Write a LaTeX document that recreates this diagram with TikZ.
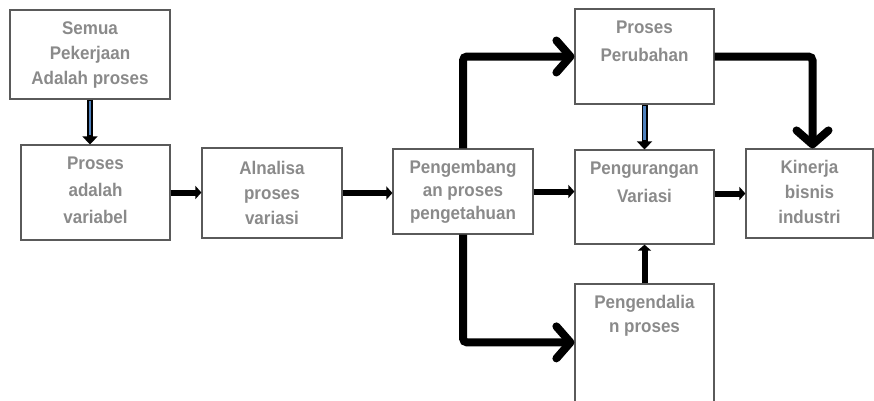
\documentclass[tikz,border=0pt]{standalone}
\usepackage{fontspec}
\setmainfont{Liberation Sans}[FakeStretch=0.93]
\usetikzlibrary{arrows.meta}
\definecolor{txtgray}{RGB}{138,138,138}
\definecolor{boxline}{RGB}{90,90,90}
\definecolor{arrblue}{RGB}{79,129,189}
\newcommand{\boxfont}[1]{\bfseries\fontsize{18.3}{#1}\selectfont}
\begin{document}
\begin{tikzpicture}[x=1pt,y=-1pt]
    \tikzstyle{box}=[draw=boxline,line width=1.2pt,inner sep=0pt]
    \tikzstyle{txt}=[text=txtgray,align=center,inner sep=0pt,anchor=north,yshift=-12pt,font=\boxfont{25}]
    \tikzstyle{flow}=[line width=6pt,-{Triangle[length=6pt,width=13pt]}]
    \tikzstyle{bigflow}=[line width=8pt,rounded corners=4pt,-{Straight Barb[length=14pt,width=32pt,round]}]
    \tikzstyle{hollow}=[line width=6pt,-{Triangle[length=8pt,width=15pt]}]
    \tikzstyle{hollowin}=[line width=2.5pt,arrblue,shorten >=9pt,shorten <=1.5pt]

    \useasboundingbox (0,0) rectangle (874,400);
    \clip (0,0) rectangle (874,400);

    % boxes
    \node[box,minimum width=160pt,minimum height=89pt](b1) at (90,54.5){};
    \node[box,minimum width=149pt,minimum height=95pt](b2) at (95.5,192.5){};
    \node[box,minimum width=140pt,minimum height=90pt](b3) at (272,193){};
    \node[box,minimum width=140pt,minimum height=85pt](b4) at (463,191.5){};
    \node[box,minimum width=139pt,minimum height=95pt](b5) at (644.5,56.5){};
    \node[box,minimum width=139pt,minimum height=94pt](b6) at (644.5,197){};
    \node[box,minimum width=127pt,minimum height=89pt](b7) at (809.5,193.5){};
    \node[box,minimum width=139pt,minimum height=130pt](b8) at (644.5,349){};

    \node[txt](t1) at (b1.north){Semua\\Pekerjaan\\Adalah proses};
    \node[txt,font=\boxfont{27}](t2) at (b2.north){Proses\\adalah\\variabel};
    \node[txt,yshift=-2pt](t3) at (b3.north){Alnalisa\\proses\\variasi};
    \node[txt,font=\boxfont{23}](t4) at (b4.north){Pengembang\\an proses\\pengetahuan};
    \node[txt,font=\boxfont{28}](t5) at (b5.north){Proses\\Perubahan};
    \node[txt,font=\boxfont{28}](t6) at (b6.north){Pengurangan\\Variasi};
    \node[txt](t7) at (b7.north){Kinerja\\bisnis\\industri};
    \node[txt,font=\boxfont{24}](t8) at (b8.north){Pengendalia\\n proses};

    % blue arrows
    \draw[hollow] (b1.south) -- (b1.south |- b2.north);
    \draw[hollowin] (b1.south) -- (b1.south |- b2.north);
    \draw[hollow] (b5.south) -- (b6.north);
    \draw[hollowin] (b5.south) -- (b6.north);

    % short arrows
    \draw[flow] (b2.east) -- (b2.east -| b3.west);
    \draw[flow] (b3.east) -- (b3.east -| b4.west);
    \draw[flow] (b4.east) -- (b4.east -| b6.west);
    \draw[flow] (b7.west -| b6.east) -- (b7.west);
    \draw[flow] (b8.north) -- (b6.south);

    % big arrows
    \draw[bigflow] (b4.north) |- (b5.west);
    \draw[bigflow] (b4.south) |- ([yshift=-59pt]b8.north west);
    \draw[bigflow] (b5.east) -| ([xshift=3pt]b7.north);
\end{tikzpicture}
\end{document}
